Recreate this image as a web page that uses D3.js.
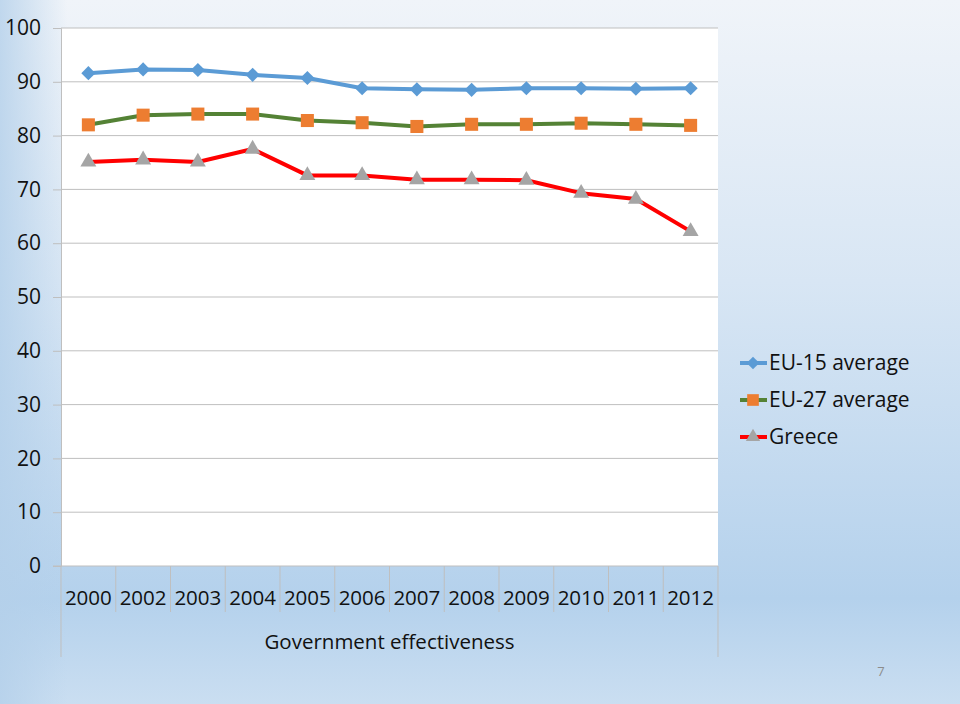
<!DOCTYPE html>
<html><head><meta charset="utf-8">
<script src="https://cdn.jsdelivr.net/npm/d3@7"></script>
<style>html,body{margin:0;padding:0;}svg{display:block;}</style>
</head><body>
<script>
const years = ["2000","2002","2003","2004","2005","2006","2007","2008","2009","2010","2011","2012"];
const eu15 = [91.6,92.3,92.2,91.3,90.7,88.8,88.6,88.5,88.8,88.8,88.7,88.8];
const eu27 = [82.0,83.8,84.0,84.0,82.8,82.4,81.7,82.1,82.1,82.3,82.1,81.9];
const greece = [75.1,75.5,75.1,77.5,72.6,72.6,71.8,71.8,71.7,69.3,68.2,62.2];
const yTicks = [0,10,20,30,40,50,60,70,80,90,100];
const groupLabel = "Government effectiveness";
const seriesNames = ["EU-15 average","EU-27 average","Greece"];

const W=960,H=704;
const svg=d3.select("body").append("svg").attr("width",W).attr("height",H);
const defs=svg.append("defs");
const g1=defs.append("linearGradient").attr("id","bg").attr("x1",0).attr("y1",0).attr("x2",0).attr("y2",1);
[[0,"#f0f4f9"],[0.4,"#d8e6f4"],[0.85,"#b4d1ec"],[1,"#cadef1"]].forEach(d=>g1.append("stop").attr("offset",d[0]).attr("stop-color",d[1]));
const g2=defs.append("linearGradient").attr("id","bgl").attr("x1",0).attr("y1",0).attr("x2",1).attr("y2",0);
g2.append("stop").attr("offset",0).attr("stop-color","#b4d0ea").attr("stop-opacity",0.8);
g2.append("stop").attr("offset",0.07).attr("stop-color","#b4d0ea").attr("stop-opacity",0);
svg.append("rect").attr("width",W).attr("height",H).attr("fill","url(#bg)");
svg.append("rect").attr("width",W).attr("height",H).attr("fill","url(#bgl)");

const L=61,R=718,T=28,B=566;
const x=d3.scaleBand().domain(years).range([L,R]);
const y=d3.scaleLinear().domain([0,100]).range([B,T]);
const font="'Open Sans', sans-serif";

svg.append("rect").attr("x",L).attr("y",T).attr("width",R-L).attr("height",B-T).attr("fill","#fff");

svg.append("g").selectAll("line").data(yTicks.filter(d=>d>0)).join("line")
  .attr("x1",L).attr("x2",R).attr("y1",d=>y(d)).attr("y2",d=>y(d))
  .attr("stroke","#bfbfbf").attr("stroke-width",1);

const ya=svg.append("g").attr("transform",`translate(${L},0)`)
  .call(d3.axisLeft(y).tickValues(yTicks).tickSize(8).tickPadding(12));
ya.select(".domain").attr("stroke","#bfbfbf");
ya.selectAll(".tick line").attr("stroke","#bfbfbf");
ya.selectAll("text").attr("font-family",font).attr("font-size",21).attr("fill","#111");

svg.append("line").attr("x1",L-8).attr("x2",R).attr("y1",B).attr("y2",B).attr("stroke","#bfbfbf");
const bounds=years.map(d=>x(d)).concat([R]);
svg.append("g").selectAll("line").data(bounds).join("line")
  .attr("x1",d=>d).attr("x2",d=>d).attr("y1",B)
  .attr("y2",(d,i)=>(i===0||i===bounds.length-1)?657:612)
  .attr("stroke","#bfbfbf");
svg.append("g").selectAll("text").data(years).join("text")
  .attr("x",d=>x(d)+x.bandwidth()/2).attr("y",605)
  .attr("text-anchor","middle").attr("font-family",font).attr("font-size",20.5).attr("fill","#111")
  .attr("textLength",47).attr("lengthAdjust","spacingAndGlyphs")
  .text(d=>d);
svg.append("text").attr("x",(L+R)/2).attr("y",649).attr("text-anchor","middle")
  .attr("font-family",font).attr("font-size",20.5).attr("fill","#111").text(groupLabel);

const cx=d=>x(d)+x.bandwidth()/2;
const series=[
  {name:seriesNames[0],vals:eu15,line:"#5b9bd5",mark:"#5b9bd5",sym:d3.symbolSquare,size:100,rot:45},
  {name:seriesNames[1],vals:eu27,line:"#548235",mark:"#ed7d31",sym:d3.symbolSquare,size:170,rot:0},
  {name:seriesNames[2],vals:greece,line:"#ff0000",mark:"#a5a5a5",sym:d3.symbolTriangle,size:110,rot:0}
];
const lineGen=d3.line().x((d,i)=>cx(years[i])).y(d=>y(d));
series.forEach(s=>{
  svg.append("path").datum(s.vals).attr("d",lineGen).attr("fill","none")
    .attr("stroke",s.line).attr("stroke-width",4).attr("stroke-linejoin","round");
  svg.append("g").selectAll("path").data(s.vals).join("path")
    .attr("transform",(d,i)=>`translate(${cx(years[i])},${y(d)}) rotate(${s.rot})`)
    .attr("d",d3.symbol(s.sym,s.size)).attr("fill",s.mark);
});

series.forEach((s,i)=>{
  const ly=363+i*37;
  svg.append("line").attr("x1",740).attr("x2",767).attr("y1",ly).attr("y2",ly).attr("stroke",s.line).attr("stroke-width",4);
  svg.append("path").attr("transform",`translate(753,${ly}) rotate(${s.rot})`).attr("d",d3.symbol(s.sym,s.size*0.8)).attr("fill",s.mark);
  svg.append("text").attr("x",769).attr("y",ly+7).attr("font-family",font).attr("font-size",21).attr("fill","#111").text(s.name);
});

svg.append("text").attr("x",881).attr("y",676).attr("text-anchor","middle").attr("font-family",font)
  .attr("font-size",13).attr("fill","#8c8c8c").text("7");
</script>
</body></html>
